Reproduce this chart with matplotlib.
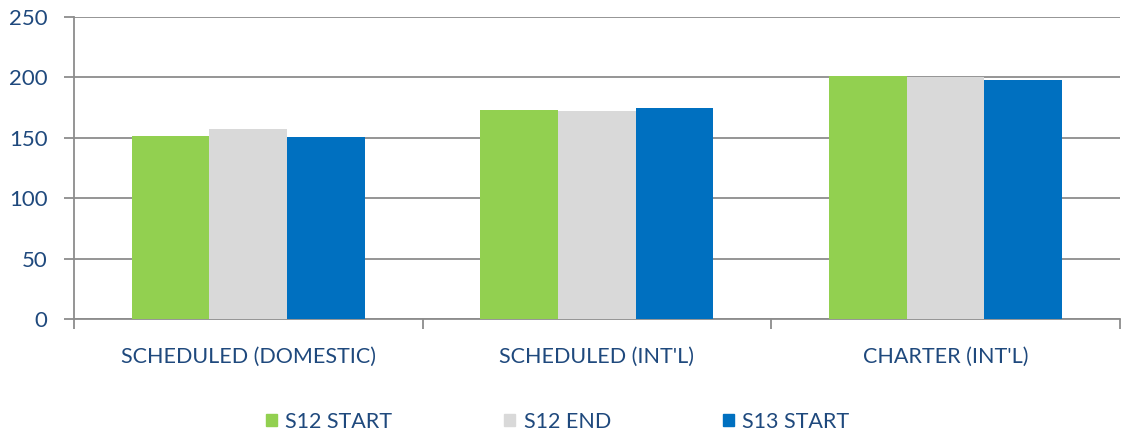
import numpy as np
import matplotlib.pyplot as plt
from matplotlib.patches import Patch

categories = ["SCHEDULED (DOMESTIC)", "SCHEDULED (INT'L)", "CHARTER (INT'L)"]
series_names = ["S12 START", "S12 END", "S13 START"]
s12_start = [151.5, 173, 201.5]
s12_end = [157.5, 172, 200]
s13_start = [150.5, 174.5, 198]
yticks = [0, 50, 100, 150, 200, 250]

colors = ['#92D050', '#D9D9D9', '#0070C0']
text_color = '#1F497D'
grid_color = '#8C8C8C'

plt.rcParams['font.family'] = ['Lato', 'DejaVu Sans']

fig = plt.figure(figsize=(11.22, 4.37), dpi=100)
ax = fig.add_axes([0.066, 0.27, 0.932, 0.691])

x = np.arange(len(categories))
w = 0.223
for i, vals in enumerate([s12_start, s12_end, s13_start]):
    ax.bar(x + (i - 1) * w, vals, width=w, color=colors[i], zorder=3)

ax.set_xlim(-0.5, 2.5)
ax.set_ylim(0, 250)
ax.set_yticks(yticks)
ax.yaxis.grid(True, color=grid_color, linewidth=1.3, zorder=0)
ax.set_xticks([-0.5, 0.5, 1.5, 2.5])
ax.set_xticklabels([])
ax.set_xticks(x, minor=True)
ax.set_xticklabels(categories, minor=True)
ax.tick_params(axis='x', which='major', length=7, color=grid_color, width=1.3)
ax.tick_params(axis='x', which='minor', length=0, pad=20, labelsize=15.5, labelcolor=text_color)
ax.tick_params(axis='y', length=7, color=grid_color, width=1.3, labelsize=16,
               labelcolor=text_color, pad=12)
for side in ['top', 'right']:
    ax.spines[side].set_visible(False)
for side in ['left', 'bottom']:
    ax.spines[side].set_color(grid_color)
    ax.spines[side].set_linewidth(1.3)

handles = [Patch(color=c) for c in colors]
fig.legend(handles, series_names, loc='center', bbox_to_anchor=(0.497, 0.035), ncol=3,
           frameon=False, fontsize=15.5, labelcolor=text_color, handlelength=0.5,
           handleheight=0.5, handletextpad=0.4, columnspacing=5.2)

fig.savefig('out.png', dpi=100)
